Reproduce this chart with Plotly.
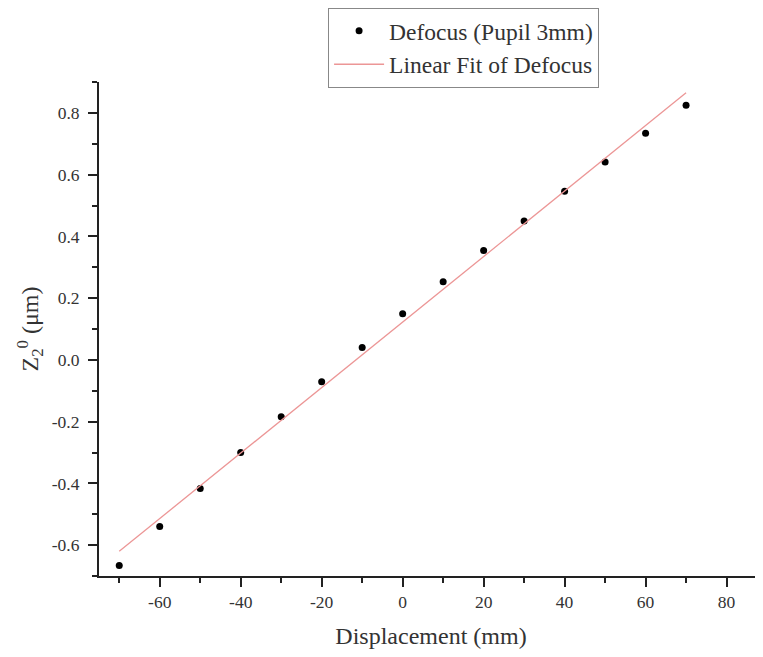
import plotly.graph_objects as go

displacement = [-70, -60, -50, -40, -30, -20, -10, 0, 10, 20, 30, 40, 50, 60, 70]
defocus = [-0.666, -0.540, -0.417, -0.300, -0.184, -0.071, 0.040, 0.149, 0.253,
           0.354, 0.450, 0.546, 0.641, 0.734, 0.825]
fit_x = [-70, 70]
fit_y = [-0.62, 0.865]

x_ticks = [-60, -40, -20, 0, 20, 40, 60, 80]
x_tick_labels = ["-60", "-40", "-20", "0", "20", "40", "60", "80"]
y_ticks = [-0.6, -0.4, -0.2, 0.0, 0.2, 0.4, 0.6, 0.8]
y_tick_labels = ["-0.6", "-0.4", "-0.2", "0.0", "0.2", "0.4", "0.6", "0.8"]

font = "Liberation Serif"

fig = go.Figure()
fig.add_trace(go.Scatter(x=displacement, y=defocus, mode="markers",
                         name="Defocus (Pupil 3mm)",
                         marker=dict(color="black", size=7)))
fig.add_trace(go.Scatter(x=fit_x, y=fit_y, mode="lines",
                         name="Linear Fit of Defocus",
                         line=dict(color="rgb(236,150,150)", width=1.3)))

axis_common = dict(showgrid=False, zeroline=False, showline=True, linecolor="#222",
                   linewidth=2, ticks="outside", ticklen=9, tickwidth=2, tickcolor="#222",
                   tickfont=dict(family=font, size=17.5, color="#333"), mirror=False,
                   automargin=False)

fig.update_xaxes(range=[-75, 89], tickvals=x_ticks, ticktext=x_tick_labels,
                 ticklabelstandoff=0,
                 minor=dict(dtick=10, tick0=0, ticks="outside", ticklen=5, tickwidth=2, tickcolor="#222"),
                 title=dict(text="Displacement (mm)", font=dict(family=font, size=24, color="#333"), standoff=16),
                 **axis_common)
fig.update_yaxes(range=[-0.7, 0.9], tickvals=y_ticks, ticktext=y_tick_labels,
                 ticklabelstandoff=5,
                 minor=dict(dtick=0.1, tick0=0, ticks="outside", ticklen=5, tickwidth=2, tickcolor="#222"),
                 title=dict(text="Z<sub>2</sub><sup>0</sup> (μm)", font=dict(family=font, size=24, color="#333"), standoff=6),
                 **axis_common)

fig.update_layout(
    width=755, height=649,
    margin=dict(l=91, r=0, t=74, b=81, autoexpand=False),
    paper_bgcolor="white", plot_bgcolor="white",
    showlegend=True,
    legend=dict(x=0.345, y=1.15, xanchor="left", yanchor="top",
                bordercolor="#888", borderwidth=1, bgcolor="white",
                font=dict(family=font, size=23.5, color="#333"),
                tracegroupgap=0, itemwidth=50),
)

fig.write_html("out.html")
